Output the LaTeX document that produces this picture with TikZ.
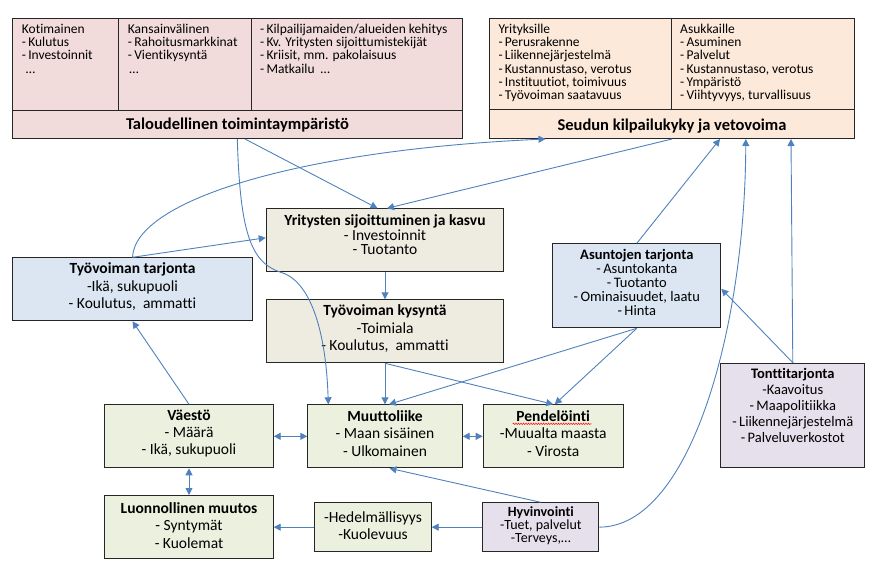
\documentclass[tikz,border=0pt]{standalone}
\usepackage{fontspec}
\setmainfont{Carlito}[Ligatures=NoCommon]
\usetikzlibrary{arrows.meta,calc,decorations.pathmorphing}
\definecolor{talc}{HTML}{F2DCDB}
\definecolor{seuc}{HTML}{FDE9D9}
\definecolor{beigec}{HTML}{EEECE1}
\definecolor{bluec}{HTML}{DCE6F2}
\definecolor{greenc}{HTML}{EBF1DE}
\definecolor{lavc}{HTML}{E5E0EC}
\definecolor{arrowc}{HTML}{4F81BD}
\begin{document}
\begin{tikzpicture}[x=1pt,y=-1pt,
  box/.style={draw=black!85, line width=1pt, inner sep=0pt, anchor=north west},
  divline/.style={draw=black!85, line width=1pt},
  coltxt/.style={inner sep=0pt, anchor=north west, align=left, font=\fontsize{13.5}{13.2}\selectfont},
  bigtitle/.style={inner sep=0pt, font=\fontsize{16.5}{18}\selectfont\bfseries},
  midtxt/.style={inner sep=0pt, align=center, font=\fontsize{15.5}{17.3}\selectfont},
  smalltxt/.style={inner sep=0pt, align=center, font=\fontsize{14.5}{14}\selectfont},
  tip/.tip={Triangle[length=7pt,width=7pt]},
  con/.style={draw=arrowc, line width=0.9pt, -tip},
  dcon/.style={draw=arrowc, line width=0.9pt, tip-tip},
]
\useasboundingbox (0,0) rectangle (872,577);

% ---- boxes ----
\node[box, fill=talc, minimum width=449.4pt, minimum height=119.7pt] (tal) at (12.3,18.3) {};
\node[box, fill=seuc, minimum width=365pt, minimum height=119.7pt] (seu) at (489,18.3) {};
\node[box, fill=beigec, minimum width=237.6pt, minimum height=62.7pt] (yri) at (265.7,208.3) {};
\node[box, fill=beigec, minimum width=237.6pt, minimum height=63pt] (kys) at (265.7,299.3) {};
\node[box, fill=bluec, minimum width=239.4pt, minimum height=63pt] (tar) at (12.3,257.3) {};
\node[box, fill=bluec, minimum width=168pt, minimum height=84pt] (asu) at (552.3,243.3) {};
\node[box, fill=lavc, minimum width=144pt, minimum height=104.6pt] (ton) at (720.3,362.7) {};
\node[box, fill=greenc, minimum width=168.4pt, minimum height=63pt] (vae) at (104.3,404.3) {};
\node[box, fill=greenc, minimum width=154.4pt, minimum height=63pt] (muu) at (307.3,404.3) {};
\node[box, fill=greenc, minimum width=140pt, minimum height=63pt] (pen) at (482.7,404.3) {};
\node[box, fill=greenc, minimum width=168.4pt, minimum height=63.3pt] (luo) at (104.3,495) {};
\node[box, fill=greenc, minimum width=116.4pt, minimum height=48.7pt] (hed) at (314.3,502.3) {};
\node[box, fill=lavc, minimum width=116pt, minimum height=48.7pt] (hyv) at (482.3,502.3) {};

% ---- dividers of the top boxes ----
\draw[divline] ($(tal.north west)+(0,92)$) -- ($(tal.north east)+(0,92)$);
\draw[divline] ($(tal.north west)+(106.4,0)$) -- ($(tal.north west)+(106.4,92)$);
\draw[divline] ($(tal.north west)+(239.4,0)$) -- ($(tal.north west)+(239.4,92)$);
\draw[divline] ($(seu.north west)+(0,91.7)$) -- ($(seu.north east)+(0,91.7)$);
\draw[divline] ($(seu.north west)+(182.7,0)$) -- ($(seu.north west)+(182.7,91.7)$);

% ---- texts ----
\node[coltxt] (talA) at ($(tal.north west)+(9.4,5.7)$) {Kotimainen\\-\,Kulutus\\-\,Investoinnit\\\hspace*{4pt}…};
\node[coltxt] (talB) at ($(tal.north west)+(115.4,5.7)$) {Kansainvälinen\\-\,Rahoitusmarkkinat\\-\,Vientikysyntä\\\hspace*{1.5pt}…};
\node[coltxt] (talC) at ($(tal.north west)+(247.7,5.7)$) {-\,Kilpailijamaiden/alueiden kehitys\\-\,Kv. Yritysten sijoittumistekijät\\-\,Kriisit, mm. pakolaisuus\\-\,Matkailu \ …};
\node[bigtitle] (talT) at ($(tal.south)+(0,-13.7)$) {Taloudellinen toimintaympäristö};

\node[coltxt] (seuA) at ($(seu.north west)+(9.3,5.7)$) {Yrityksille\\-\,Perusrakenne\\-\,Liikennejärjestelmä\\-\,Kustannustaso, verotus\\-\,Instituutiot, toimivuus\\-\,Työvoiman saatavuus};
\node[coltxt] (seuB) at ($(seu.north west)+(191,5.7)$) {Asukkaille\\-\,Asuminen\\-\,Palvelut\\-\,Kustannustaso, verotus\\-\,Ympäristö\\-\,Viihtyvyys, turvallisuus};
\node[bigtitle] (seuT) at ($(seu.south)+(0,-13)$) {Seudun kilpailukyky ja vetovoima};

\node[midtxt, font=\fontsize{15.5}{14.7}\selectfont] (yriT) at ($(yri.north)+(0,26.4)$) {\textbf{Yritysten sijoittuminen ja kasvu}\\- Investoinnit\\- Tuotanto};
\node[midtxt] (kysT) at ($(kys.north)+(0,29.5)$) {\textbf{Työvoiman kysyntä}\\-Toimiala\\- Koulutus,\ \ ammatti};
\node[midtxt] (tarT) at ($(tar.north)+(0,29.4)$) {\textbf{Työvoiman tarjonta}\\-Ikä, sukupuoli\\- Koulutus,\ \ ammatti};
\node[smalltxt] (asuT) at ($(asu.north)+(0,38.9)$) {\textbf{Asuntojen tarjonta}\\-\,Asuntokanta\\-\,Tuotanto\\-\,Ominaisuudet, laatu\\-\,Hinta};
\node[smalltxt, font=\fontsize{14.5}{16}\selectfont] (tonT) at ($(ton.north)+(0,42.6)$) {\textbf{Tonttitarjonta}\\-Kaavoitus\\-\,Maapolitiikka\\-\,Liikennejärjestelmä\\-\,Palveluverkostot};
\node[midtxt] (vaeT) at ($(vae.north)+(0,29.2)$) {\textbf{Väestö}\\- Määrä\\- Ikä, sukupuoli};
\node[midtxt] (muuT) at ($(muu.north)+(0,29.2)$) {\textbf{Muuttoliike}\\- Maan sisäinen\\- Ulkomainen};
\node[midtxt] (penT) at ($(pen.north)+(0,29.2)$) {\textbf{Pendelöinti}\\-Muualta maasta\\- Virosta};
\node[midtxt] (luoT) at ($(luo.north)+(0,30.5)$) {\textbf{Luonnollinen muutos}\\- Syntymät\\- Kuolemat};
\node[midtxt, font=\fontsize{15.5}{17.6}\selectfont] (hedT) at ($(hed.north)+(0,23.2)$) {-Hedelmällisyys\\-Kuolevuus};
\node[smalltxt, font=\fontsize{14}{13}\selectfont] (hyvT) at ($(hyv.north)+(0,23.2)$) {\textbf{Hyvinvointi}\\-Tuet, palvelut\\-Terveys,…};

% spell-check underline
\draw[red, line width=0.5pt, decorate, decoration={snake, amplitude=0.7pt, segment length=2.5pt}]
  ($(pen.north west)+(30,19.5)$) -- ($(pen.north west)+(109,19.5)$);

% ---- connectors ----
\draw[con] ($(tal.south west)+(225,0)$) .. controls (240,230) and (250,262) .. ($(yri.south west)+(14.3,0)$)
  .. controls (310,280) and (326,330) .. ($(muu.north west)+(21,0)$);
\draw[con] ($(tal.south west)+(232.7,0)$) -- ($(yri.north)+(-7.5,0)$);
\draw[con] (seu.south) -- ($(yri.north)+(2,0)$);
\draw[con] (tar.north) .. controls (135,200) and (300,150) .. ($(seu.south west)+(56.5,0)$);
\draw[con] (tar.north) -- ($(yri.west)+(0,-2.4)$);
\draw[con] (yri.south) -- (kys.north);
\draw[con] (kys.south) -- (muu.north);
\draw[con] (kys.south) -- (pen.north);
\draw[con] (asu.south) -- ($(muu.north)+(4,0)$);
\draw[con] (asu.south) -- ($(pen.north)+(1.5,0)$);
\draw[con] (asu.north) -- ($(seu.south)+(48,0)$);
\draw[con] (ton.north) -- ($(asu.east)+(0,3)$);
\draw[con] (ton.north) -- ($(seu.south)+(119,0)$);
\draw[con] (hyv.east) .. controls (690,527) and (745,330) .. ($(seu.south)+(73.8,0)$);
\draw[con] (hyv.north) -- ($(muu.south)+(4.5,0)$);
\draw[con] (hyv.west) -- (hed.east);
\draw[con] (hed.west) -- (luo.east);
\draw[dcon] (vae.east) -- (muu.west);
\draw[dcon] (muu.east) -- (pen.west);
\draw[dcon] (vae.south) -- (luo.north);
\draw[con] (vae.north) -- (tar.south);
\end{tikzpicture}
\end{document}
